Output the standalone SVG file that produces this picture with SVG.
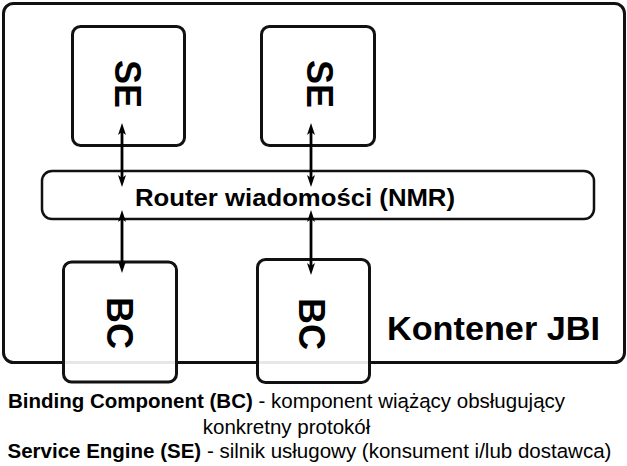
<svg xmlns="http://www.w3.org/2000/svg" width="627" height="466" viewBox="0 0 627 466">
  <style>
    text { font-family: "Liberation Sans", Arial, sans-serif; fill: #000; }
    .box { fill: #fff; stroke: #111; stroke-width: 3; }
    .bc { fill: #fff; fill-opacity: 0.9; stroke: #111; stroke-width: 3; }
    .router { fill: #fff; stroke: #111; stroke-width: 2.5; }
    .big { font-size: 36px; font-weight: bold; }
    .conn { stroke: #000; stroke-width: 2.8; fill: none; marker-start: url(#ah); marker-end: url(#ah); }
    .legend { font-size: 20.5px; }
    .b { font-weight: bold; }
  </style>
  <defs>
    <marker id="ah" markerUnits="userSpaceOnUse" viewBox="0 0 12 8" markerWidth="12" markerHeight="8" refX="6" refY="4" orient="auto-start-reverse">
      <path d="M0,0 L12,4 L0,8 L3,4 z" fill="#000"/>
    </marker>
  </defs>

  <g id="container">
    <rect x="3.5" y="3.5" width="621" height="359" rx="10" fill="#fff" stroke="#111" stroke-width="3"/>
    <text x="387" y="340" font-size="34" font-weight="bold" textLength="213" lengthAdjust="spacingAndGlyphs">Kontener JBI</text>
  </g>

  <g id="se1">
    <rect class="box" x="72.5" y="26.5" width="112" height="119" rx="8"/>
    <text class="big" text-anchor="middle" transform="translate(115,84) rotate(90)">SE</text>
  </g>
  <g id="se2">
    <rect class="box" x="261.5" y="26.5" width="113" height="119" rx="8"/>
    <text class="big" text-anchor="middle" transform="translate(307,84) rotate(90)">SE</text>
  </g>

  <g id="router">
    <rect class="router" x="42" y="171" width="552" height="48" rx="10"/>
    <text x="295" y="206" font-size="23" font-weight="bold" text-anchor="middle" textLength="320" lengthAdjust="spacingAndGlyphs">Router wiadomości (NMR)</text>
  </g>

  <g id="bc1">
    <rect class="bc" x="63.5" y="262" width="113" height="120" rx="8"/>
    <text class="big" text-anchor="middle" transform="translate(107,323) rotate(90)">BC</text>
  </g>
  <g id="bc2">
    <rect class="bc" x="257.5" y="259.5" width="112" height="123" rx="8"/>
    <text class="big" text-anchor="middle" transform="translate(299,324) rotate(90)">BC</text>
  </g>

  <g id="connectors">
    <line class="conn" x1="122" y1="129" x2="122" y2="181"/>
    <line class="conn" x1="122" y1="216" x2="122" y2="267"/>
    <line class="conn" x1="311" y1="129" x2="311" y2="181"/>
    <line class="conn" x1="311" y1="216" x2="311" y2="269"/>
  </g>

  <g id="legend">
    <text class="legend" x="8" y="408"><tspan class="b">Binding Component (BC)</tspan> - komponent wiążący obsługujący</text>
    <text class="legend" x="286.5" y="434" text-anchor="middle">konkretny protokół</text>
    <text class="legend" x="7.5" y="458"><tspan class="b">Service Engine (SE)</tspan> - silnik usługowy (konsument i/lub dostawca)</text>
  </g>
</svg>
